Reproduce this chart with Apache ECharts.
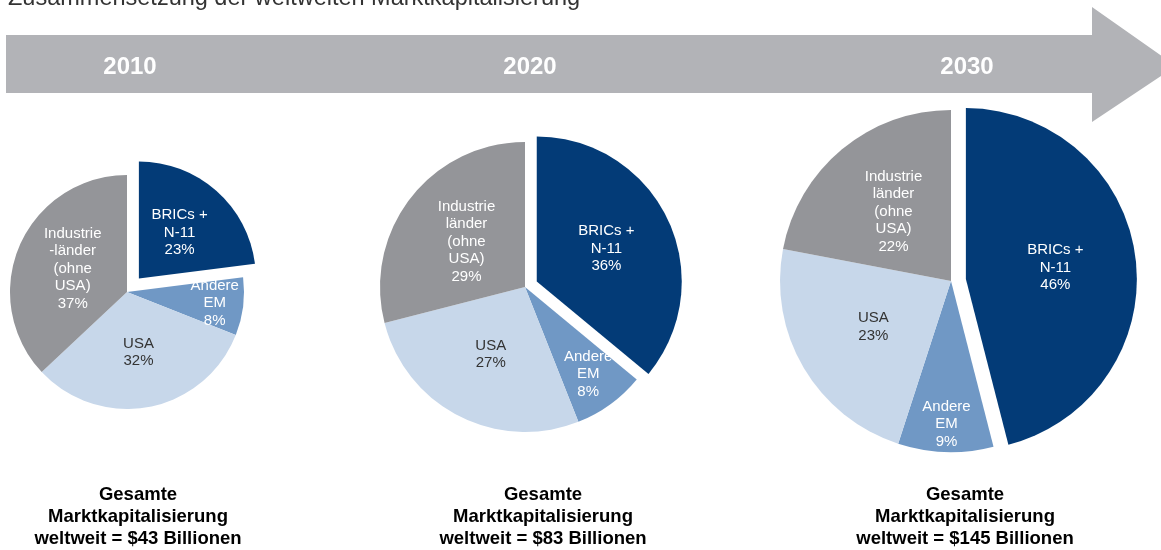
<!DOCTYPE html>
<html>
<head>
<meta charset="utf-8">
<script src="https://cdn.jsdelivr.net/npm/echarts@6/dist/echarts.min.js"></script>
<style>html,body{margin:0;padding:0;background:#fff}#c{width:1161px;height:550px}</style>
</head>
<body>
<div id="c"></div>
<script>
// ---- data ----
const title = 'Zusammensetzung der weltweiten Marktkapitalisierung';
const years = ['2010', '2020', '2030'];
const segmentNames = ['BRICs + N-11', 'Andere EM', 'USA', 'Industrieländer (ohne USA)'];
const labels2010 = ['BRICs +\nN-11', 'Andere\nEM', 'USA', 'Industrie\n-länder\n(ohne\nUSA)'];
const labels2020 = ['BRICs +\nN-11', 'Andere\nEM', 'USA', 'Industrie\nländer\n(ohne\nUSA)'];
const labels2030 = ['BRICs +\nN-11', 'Andere\nEM', 'USA', 'Industrie\nländer\n(ohne\nUSA)'];
const shares2010 = [23, 8, 32, 37];
const shares2020 = [36, 8, 27, 29];
const shares2030 = [46, 9, 23, 22];
const totals = ['$43', '$83', '$145'];

// ---- layout / style ----
const colors = ['#033b77', '#7098c5', '#c7d7ea', '#949599'];
const labelColors = ['#ffffff', '#ffffff', '#333333', '#ffffff'];
const pieCenters = [[127, 292], [525, 287], [951, 281]];
const pieRadii = [117, 145, 171];
const explode = [18, 13, 15];
const labelRadiusRatio = [
  [0.5, 0.73, 0.5, 0.48],
  [0.51, 0.72, 0.5, 0.49],
  [0.51, 0.82, 0.51, 0.51]
];
const yearX = [130, 530, 967];
const footX = [138, 543, 965];

const allShares = [shares2010, shares2020, shares2030];
const allLabels = [labels2010, labels2020, labels2030];

function midAngles(vals) {
  const tot = vals.reduce((a, b) => a + b, 0);
  let acc = 0;
  return vals.map(v => { const m = (acc + v / 2) / tot * 2 * Math.PI; acc += v; return m; });
}

const series = allShares.map((vals, si) => ({
  type: 'pie',
  center: pieCenters[si],
  radius: pieRadii[si],
  startAngle: 90,
  clockwise: true,
  selectedMode: 'single',
  selectedOffset: explode[si],
  animation: false,
  silent: true,
  labelLine: { show: false },
  label: {
    show: true,
    position: 'inside',
    fontFamily: 'Liberation Sans',
    fontSize: 15,
    lineHeight: 17.5,
    formatter: p => p.data.lab + '\n' + p.value + '%'
  },
  labelLayout: function (params) {
    const ang = midAngles(vals)[params.dataIndex];
    const k = labelRadiusRatio[si][params.dataIndex] - 0.5;
    return { dx: k * pieRadii[si] * Math.sin(ang), dy: -k * pieRadii[si] * Math.cos(ang) };
  },
  data: vals.map((v, i) => ({
    name: segmentNames[i],
    lab: allLabels[si][i],
    value: v,
    selected: i === 0,
    itemStyle: { color: colors[i] },
    label: { color: labelColors[i] }
  }))
}));

const graphics = [
  {
    type: 'polygon', z: 0,
    shape: { points: [[6, 35], [1092, 35], [1092, 7], [1176, 66], [1092, 122], [1092, 93], [6, 93]] },
    style: { fill: '#b2b3b7' }
  },
  {
    type: 'text', x: 8, y: 11, z: 5,
    style: { text: title, font: '23.5px "Liberation Sans"', fill: '#333333', verticalAlign: 'bottom' }
  }
];
years.forEach((y, i) => graphics.push({
  type: 'text', x: yearX[i], y: 67, z: 5,
  style: { text: y, font: 'bold 24px "Liberation Sans"', fill: '#ffffff', align: 'center', verticalAlign: 'middle' }
}));
totals.forEach((t, i) => graphics.push({
  type: 'text', x: footX[i], y: 484, z: 5,
  style: {
    text: 'Gesamte\nMarktkapitalisierung\nweltweit = ' + t + ' Billionen',
    font: 'bold 18.5px "Liberation Sans"', lineHeight: 22, fill: '#000000', align: 'center', verticalAlign: 'top'
  }
}));

const chart = echarts.init(document.getElementById('c'), null, { renderer: 'canvas' });
chart.setOption({
  backgroundColor: '#ffffff',
  animation: false,
  graphic: graphics,
  series: series
});
</script>
</body>
</html>
